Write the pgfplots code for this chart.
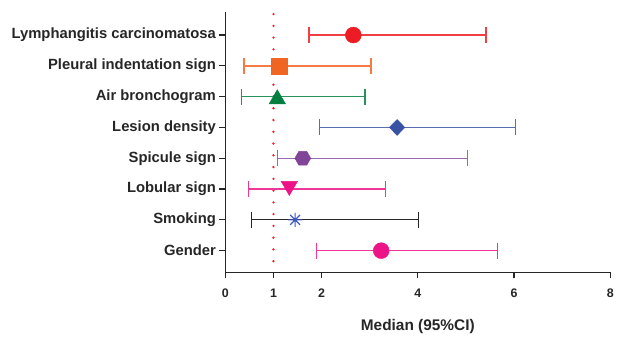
\documentclass[border=0pt]{standalone}
\usepackage{pgfplots}
\pgfplotsset{compat=1.18}
\usepackage{fontspec}
\setmainfont{Liberation Sans}
\definecolor{cRed}{RGB}{237,28,36}
\definecolor{cOrange}{RGB}{241,101,34}
\definecolor{cGreen}{RGB}{0,128,64}
\definecolor{cBlue}{RGB}{57,83,164}
\definecolor{cPurple}{RGB}{128,68,152}
\definecolor{cPink}{RGB}{236,20,135}
\definecolor{cAst}{RGB}{60,90,190}
\definecolor{cDot}{RGB}{240,30,40}
\pgfdeclareplotmark{hexagon*}{%
  \pgfpathmoveto{\pgfqpointpolar{0}{\pgfplotmarksize}}%
  \pgfpathlineto{\pgfqpointpolar{60}{\pgfplotmarksize}}%
  \pgfpathlineto{\pgfqpointpolar{120}{\pgfplotmarksize}}%
  \pgfpathlineto{\pgfqpointpolar{180}{\pgfplotmarksize}}%
  \pgfpathlineto{\pgfqpointpolar{240}{\pgfplotmarksize}}%
  \pgfpathlineto{\pgfqpointpolar{300}{\pgfplotmarksize}}%
  \pgfpathclose
  \pgfusepathqfillstroke}
\pgfdeclareplotmark{ast8}{%
  \pgfpathmoveto{\pgfqpointpolar{90}{\pgfplotmarksize}}%
  \pgfpathlineto{\pgfqpointpolar{270}{\pgfplotmarksize}}%
  \pgfpathmoveto{\pgfqpointpolar{45}{\pgfplotmarksize}}%
  \pgfpathlineto{\pgfqpointpolar{225}{\pgfplotmarksize}}%
  \pgfpathmoveto{\pgfqpointpolar{135}{\pgfplotmarksize}}%
  \pgfpathlineto{\pgfqpointpolar{315}{\pgfplotmarksize}}%
  \pgfpathmoveto{\pgfqpointpolar{0}{\pgfplotmarksize}}%
  \pgfpathlineto{\pgfqpointpolar{180}{\pgfplotmarksize}}%
  \pgfusepathqstroke}
\pgfplotsset{
  ci/.style={line width=1.3bp, #1},
  cap/.style={only marks, mark=|, mark size=8bp, mark options={line width=1.3bp, #1}, #1},
}
\begin{document}
\begin{tikzpicture}
\begin{axis}[
  name=ax,
  scale only axis,
  width=386bp, height=261bp,
  xmin=0, xmax=8, ymin=0.3, ymax=8.75,
  axis x line*=bottom, axis y line*=left,
  axis line style={line width=1.2bp, black!85},
  xtick={0,1,2,4,6,8},
  ytick={1,2,3,4,5,6,7,8},
  yticklabels={Gender,Smoking,Lobular sign,Spicule sign,Lesion density,Air bronchogram,Pleural indentation sign,Lymphangitis carcinomatosa},
  tick align=outside,
  major tick length=6bp,
  tick style={line width=1.2bp, black!85},
  /pgf/number format/assume math mode=true,
  xticklabel style={font=\bfseries\fontsize{12.5}{14}\selectfont, text=black!85, yshift=-7bp},
  yticklabel style={font=\bfseries\fontsize{14.9}{16}\selectfont, text=black!85},
  xlabel={Median (95\%CI)},
  xlabel style={at={(axis description cs:0.5,0)}, anchor=center, yshift=-54bp, font=\bfseries\fontsize{15.5}{17}\selectfont, text=black!85},
  clip=false,
]
\addplot[cDot, line width=2.6bp, dash pattern=on 0bp off 11.8bp, line cap=round] coordinates {(1,8.68) (1,0.62)};
% Lymphangitis carcinomatosa
\addplot[ci=cRed!85] coordinates {(1.74,8) (5.42,8)};
\addplot[cap=cRed!85] coordinates {(1.74,8) (5.42,8)};
\addplot[only marks, mark=*, mark size=8bp, cRed] coordinates {(2.66,8)};
% Pleural indentation sign
\addplot[ci=cOrange!85] coordinates {(0.39,7) (3.03,7)};
\addplot[cap=cOrange!85] coordinates {(0.39,7) (3.03,7)};
\addplot[only marks, mark=square*, mark size=8bp, cOrange] coordinates {(1.11,7)};
% Air bronchogram
\addplot[ci=cGreen!85] coordinates {(0.33,6) (2.90,6)};
\addplot[cap=cGreen!85] coordinates {(0.33,6) (2.90,6)};
\addplot[only marks, mark=triangle*, mark size=9.5bp, mark options={yshift=-2.5bp}, cGreen] coordinates {(1.08,6)};
% Lesion density
\addplot[ci=cBlue!85] coordinates {(1.95,5) (6.03,5)};
\addplot[cap=cBlue!85] coordinates {(1.95,5) (6.03,5)};
\addplot[only marks, mark=diamond*, mark size=8bp, mark options={xscale=1.3}, cBlue] coordinates {(3.57,5)};
% Spicule sign
\addplot[ci=cPurple!80] coordinates {(1.09,4) (5.03,4)};
\addplot[cap=cPurple!80] coordinates {(1.09,4) (5.03,4)};
\addplot[only marks, mark=hexagon*, mark size=8bp, cPurple] coordinates {(1.61,4)};
% Lobular sign
\addplot[ci=cPink!85] coordinates {(0.48,3) (3.33,3)};
\addplot[cap=cPink!85] coordinates {(0.48,3) (3.33,3)};
\addplot[only marks, mark=triangle*, mark options={yshift=3bp, rotate=180}, mark size=9.5bp, cPink] coordinates {(1.33,3)};
% Smoking
\addplot[ci=black!85] coordinates {(0.55,2) (4.02,2)};
\addplot[cap=black!85] coordinates {(0.55,2) (4.02,2)};
\addplot[only marks, mark=ast8, mark size=7bp, mark options={line width=1.2bp}, cAst] coordinates {(1.45,2)};
% Gender
\addplot[ci=cPink!85] coordinates {(1.89,1) (5.66,1)};
\addplot[cap=cPink!85] coordinates {(1.89,1) (5.66,1)};
\addplot[only marks, mark=*, mark size=8bp, cPink] coordinates {(3.24,1)};
\end{axis}
\path ([shift={(-226bp,-66.3bp)}]ax.south west) rectangle ([shift={(5bp,12bp)}]ax.north east);
\end{tikzpicture}
\end{document}
